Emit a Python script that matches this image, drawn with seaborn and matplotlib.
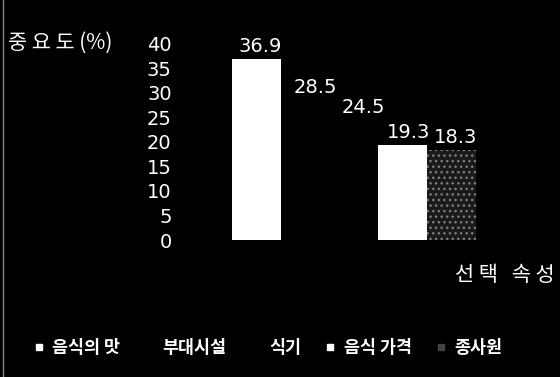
import matplotlib
matplotlib.use("Agg")
import matplotlib.pyplot as plt
import seaborn as sns
import pandas as pd
from matplotlib.lines import Line2D

categories = ["음식의 맛", "부대시설", "식기", "음식 가격", "종사원"]
values = [36.9, 28.5, 24.5, 19.3, 18.3]
value_labels = ["36.9", "28.5", "24.5", "19.3", "18.3"]
y_ticks = [0, 5, 10, 15, 20, 25, 30, 35, 40]
y_label = "중 요 도 (%)"
x_label = "선 택   속 성"

bar_colors = ["#ffffff", "#000000", "#000000", "#ffffff", "#1a1a1a"]
legend_colors = ["#ffffff", "#000000", "#000000", "#ffffff", "#444444"]

sns.set_theme(style="dark")
plt.rcParams["font.family"] = ["DejaVu Sans", "Noto Sans CJK KR"]
KR = ["Noto Sans CJK KR", "DejaVu Sans"]

df = pd.DataFrame({"grp": [""] * len(categories), "attr": categories, "val": values})

fig = plt.figure(figsize=(5.6, 3.77), dpi=100, facecolor="black")
ax = fig.add_axes([180 / 560, 1 - 240 / 377, 360 / 560, (240 - 43.5) / 377])
ax.set_facecolor("black")

sns.barplot(data=df, x="grp", y="val", hue="attr", hue_order=categories,
            palette=dict(zip(categories, bar_colors)), width=0.8,
            saturation=1, ax=ax, legend=False, linewidth=0)

x_shifts = [3, 7, 7, 4, 3]
for cont, lab, dx in zip(ax.containers, value_labels, x_shifts):
    anns = ax.bar_label(cont, labels=[lab], padding=2, color="white", fontsize=14)
    for a in anns:
        a.xyann = (dx, a.xyann[1])

# stippled texture on last bar
for p in ax.containers[4]:
    p.set_hatch("...")
    p.set_edgecolor("#808080")
    p.set_linewidth(0)

ax.set_ylim(0, 40)
ax.set_xlim(-0.5705, 0.6098)
ax.set_yticks(y_ticks)
ax.set_yticklabels([str(t) for t in y_ticks], color="white", fontsize=14)
ax.tick_params(axis="y", length=0, pad=6)
ax.set_xticks([])
ax.set_xlabel("")
ax.set_ylabel("")
ax.grid(False)
for s in ax.spines.values():
    s.set_visible(False)

fig.text(8 / 560, 1 - 43 / 377, y_label, color="white", fontsize=15,
         family=KR, va="center", ha="left")
fig.text(555 / 560, 1 - 275 / 377, x_label, color="white", fontsize=15,
         family=KR, va="center", ha="right")

# legend
handles = []
for c in legend_colors:
    handles.append(Line2D([], [], marker="s", linestyle="none", markersize=4,
                          markerfacecolor=c, markeredgecolor=c))
leg = fig.legend(handles, categories, loc="center", bbox_to_anchor=(267 / 560, 1 - 348 / 377),
                 ncol=5, frameon=False, handletextpad=0.35, columnspacing=1.3,
                 handlelength=0.8, prop={"family": KR, "size": 12.5, "weight": "bold"})
for t in leg.get_texts():
    t.set_color("white")

fig.add_artist(Line2D([2.5 / 560, 2.5 / 560], [0, 1], color="#888888", lw=1))

fig.savefig("out.png", dpi=100, facecolor="black")
